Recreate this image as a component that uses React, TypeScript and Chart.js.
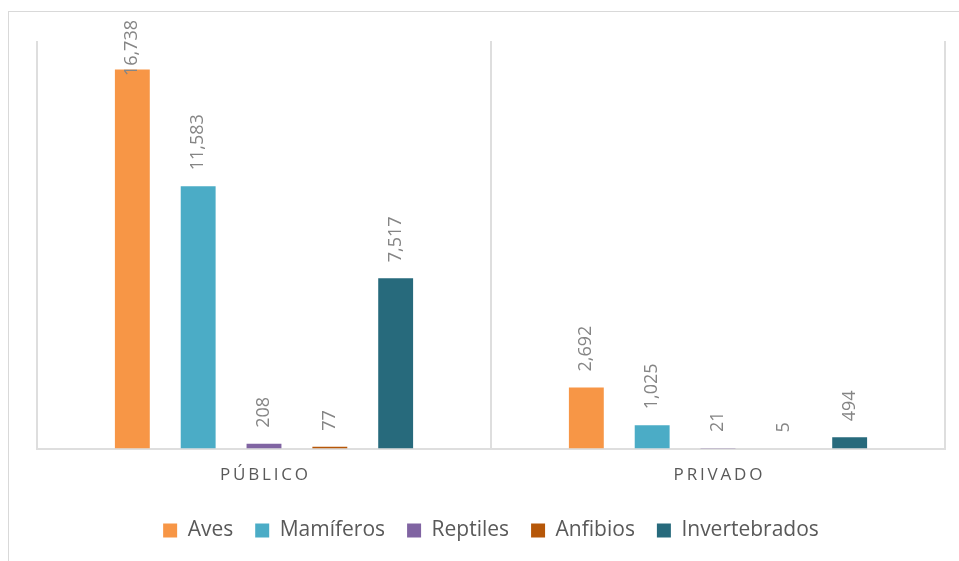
import React, { useEffect, useRef } from "react";
import { Chart, registerables } from "chart.js";

Chart.register(...registerables);

const categories = ["PÚBLICO", "PRIVADO"];
const seriesNames = ["Aves", "Mamíferos", "Reptiles", "Anfibios", "Invertebrados"];
const aves = [16738, 2692];
const mamiferos = [11583, 1025];
const reptiles = [208, 21];
const anfibios = [77, 5];
const invertebrados = [7517, 494];
const seriesColors = ["#F79646", "#4BACC6", "#8064A2", "#B65708", "#276A7C"];

const FONT = "'Open Sans', 'DejaVu Sans', sans-serif";

const dataLabelPlugin = {
  id: "rotatedDataLabels",
  afterDatasetsDraw(chart: any) {
    const ctx = chart.ctx;
    ctx.save();
    ctx.font = `18px ${FONT}`;
    ctx.fillStyle = "#858585";
    ctx.textAlign = "left";
    ctx.textBaseline = "middle";
    chart.data.datasets.forEach((ds: any, di: number) => {
      const meta = chart.getDatasetMeta(di);
      meta.data.forEach((el: any, i: number) => {
        const v = ds.data[i];
        const text = Number(v).toLocaleString("en-US");
        const w = ctx.measureText(text).width;
        let start = el.y - 16;
        if (start - w < 20) start = 20 + w;
        ctx.save();
        ctx.translate(el.x, start);
        ctx.rotate(-Math.PI / 2);
        ctx.fillText(text, 0, 0);
        ctx.restore();
      });
    });
    ctx.restore();
  },
};

export default function App() {
  const ref = useRef<HTMLCanvasElement | null>(null);
  useEffect(() => {
    if (!ref.current) return;
    const values = [aves, mamiferos, reptiles, anfibios, invertebrados];
    const chart = new Chart(ref.current, {
      type: "bar",
      data: {
        labels: categories,
        datasets: seriesNames.map((name, i) => ({
          label: name,
          data: values[i],
          backgroundColor: seriesColors[i],
          borderWidth: 0,
          categoryPercentage: 0.725,
          barPercentage: 0.53,
        })),
      },
      options: {
        responsive: false,
        animation: false,
        layout: { padding: { left: 37, right: 14, top: 41, bottom: 10 } },
        plugins: {
          tooltip: { enabled: false },
          legend: {
            position: "bottom",
            labels: {
              boxWidth: 14,
              boxHeight: 14,
              padding: 22,
              color: "#595959",
              font: { family: FONT, size: 21 },
            },
          },
        },
        scales: {
          x: {
            grid: { display: true, color: "#dedede", lineWidth: 2, drawTicks: false },
            border: { display: true, color: "#dedede", width: 2 },
            ticks: {
              padding: 16,
              color: "#595959",
              font: { family: FONT, size: 17 },
              callback: (_v: any, idx: number) => categories[idx].split("").join("\u2009"),
            },
            afterFit: (scale: any) => {
              scale.height = 49.5;
            },
          },
          y: {
            display: false,
            min: 0,
            max: 18000,
          },
        },
      },
      plugins: [dataLabelPlugin],
    });
    return () => chart.destroy();
  }, []);
  return (
    <>
      <div
        style={{
          position: "fixed",
          left: 8,
          top: 11,
          right: 0,
          bottom: 0,
          borderTop: "1px solid #d9d9d9",
          borderLeft: "1px solid #d9d9d9",
        }}
      />
      <canvas
        ref={ref}
        width={959}
        height={561}
        style={{ position: "fixed", left: 0, top: 0, width: 959, height: 561 }}
      />
    </>
  );
}
